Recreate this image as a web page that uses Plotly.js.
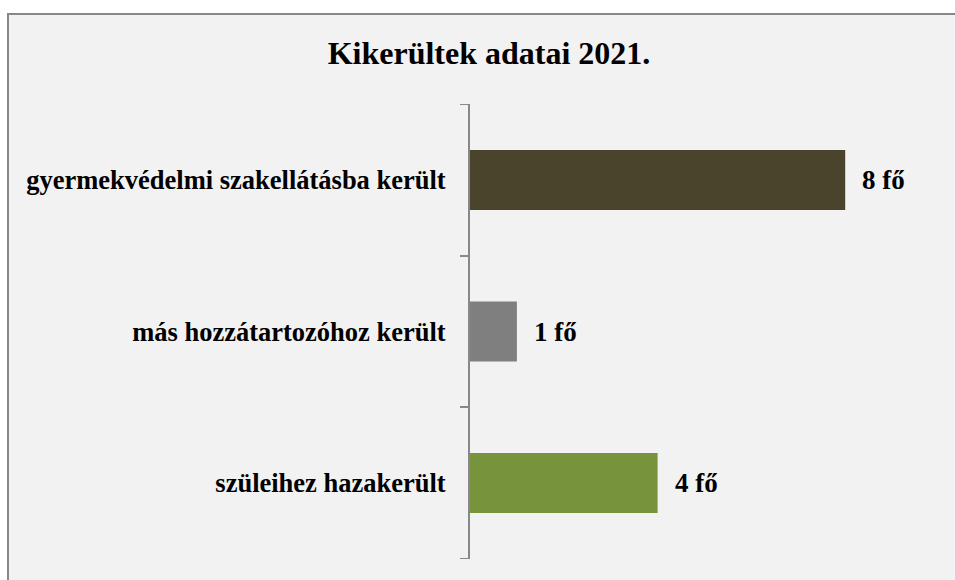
<!DOCTYPE html>
<html><head><meta charset="utf-8">
<script src="https://cdn.plot.ly/plotly-3.0.1.min.js"></script>
<style>
html,body{margin:0;padding:0;background:#fff;overflow:hidden;width:955px;height:580px;}
#wrap{position:absolute;left:7px;top:13px;border-left:2px solid #888888;border-top:2px solid #888888;}
#chart{width:946px;height:565px;}
</style></head>
<body><div id="wrap"><div id="chart"></div></div>
<script>
const categories = ["gyermekvédelmi szakellátásba került", "más hozzátartozóhoz került", "szüleihez hazakerült"];
const values = [8, 1, 4];
const labels = ["8 fő", "1 fő", "4 fő"];
const colors = ["#4a442d", "#7f7f7f", "#77933c"];

const serif = "'Liberation Serif', 'Times New Roman', serif";

const trace = {
  type: "bar", orientation: "h",
  x: values, y: categories,
  marker: {color: colors},
  hoverinfo: "none"
};

const annotations = categories.map((c, i) => ({
  x: values[i], y: c, xref: "x", yref: "y",
  text: "<b>" + labels[i] + "</b>", showarrow: false,
  xanchor: "left", yanchor: "middle", xshift: 15,
  font: {family: serif, size: 27, color: "#000"}
}));

const layout = {
  width: 946, height: 565,
  paper_bgcolor: "#f2f2f2", plot_bgcolor: "#f2f2f2",
  margin: {l: 461, r: 16.25, t: 88.5, b: 21},
  bargap: 0.605,
  showlegend: false,
  title: {text: "<b>Kikerültek adatai 2021.</b>", font: {family: serif, size: 32, color: "#000"},
          xref: "container", yref: "container", x: 0.5074, y: 0.9327, xanchor: "center", yanchor: "middle"},
  xaxis: {range: [0, 10], visible: false, showgrid: false, zeroline: false, fixedrange: true},
  yaxis: {type: "category", categoryorder: "array", categoryarray: categories.slice().reverse(),
          range: [-0.502, 2.502], showline: true, linecolor: "#888888", linewidth: 2,
          ticks: "outside", ticklen: 8, tickwidth: 1.5, tickcolor: "#888888", tickson: "boundaries",
          showgrid: false, zeroline: false, ticklabelstandoff: 17,
          tickfont: {family: serif, size: 26.5, color: "#000", weight: "bold"}},
  annotations: annotations
};

Plotly.newPlot("chart", [trace], layout, {staticPlot: true, displayModeBar: false});
</script></body></html>
